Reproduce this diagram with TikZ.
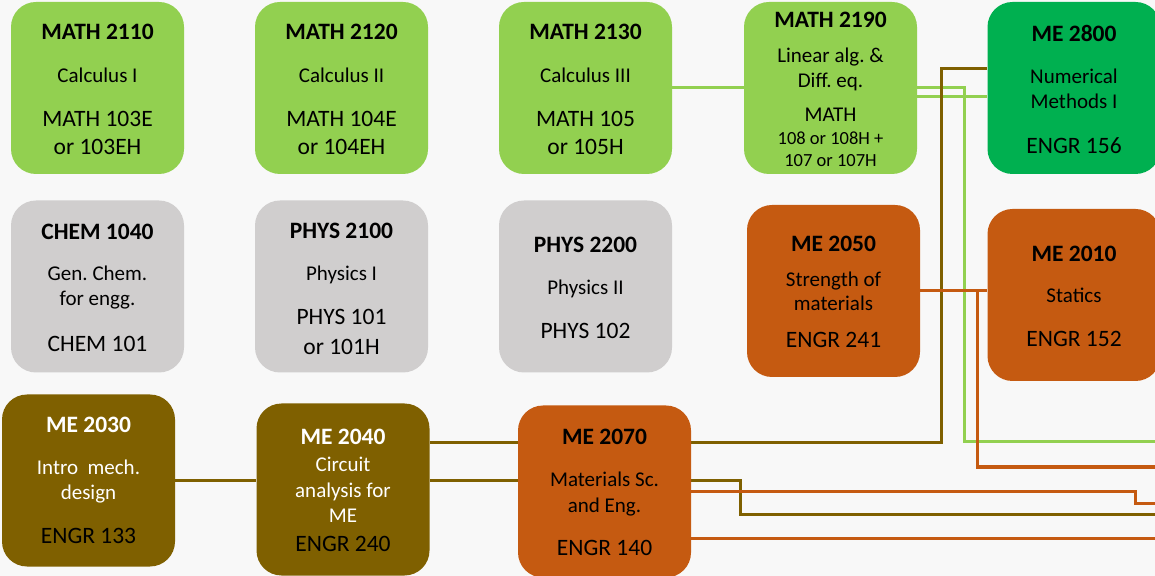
\documentclass[tikz,border=0pt]{standalone}
\usepackage{fontspec}
\setmainfont{Carlito}
\usepackage{tikz}
\usetikzlibrary{calc}
\definecolor{paper}{HTML}{F8F8F8}
\definecolor{lgreen}{HTML}{92D050}
\definecolor{dgreen}{HTML}{00B050}
\definecolor{lgray}{HTML}{D0CECE}
\definecolor{rust}{HTML}{C55A11}
\definecolor{olive}{HTML}{7F6000}
\pgfdeclarelayer{sheet}
\pgfdeclarelayer{wires}
\pgfsetlayers{sheet,wires,main}
\frenchspacing
\tikzset{
  course/.style={rounded corners=12.5pt,minimum width=86.5pt,minimum height=86pt,inner sep=0pt},
  ttl/.style={anchor=base,inner sep=0pt,font=\bfseries\fontsize{11.75}{14}\selectfont},
  dsc/.style={anchor=base,inner sep=0pt,font=\fontsize{10.5}{12.5}\selectfont},
  cde/.style={anchor=base,inner sep=0pt,font=\fontsize{11.75}{14.5}\selectfont},
  sml/.style={anchor=base,inner sep=0pt,font=\fontsize{9.25}{11.5}\selectfont},
  wire/.style={line width=1.5pt}
}

\begin{document}
\begin{tikzpicture}[x=0.5pt,y=-0.5pt]
\useasboundingbox (0,0) rectangle (1155,576);
\begin{pgfonlayer}{sheet}\fill[paper] (0,0) rectangle (1155,576);\end{pgfonlayer}
\clip (0,0) rectangle (1155,576);
% first row: maths
\node[course,fill=lgreen] (m2110) at (97.5,88) {};
\node[ttl] (m2110a) at (97.5,39.5) {MATH 2110}; \node[dsc] (m2110b) at (97.5,82.5) {Calculus I};
\node[cde] (m2110c) at (97.5,126.5) {MATH 103E}; \node[cde] (m2110d) at (97.5,154.5) {or 103EH};
\node[course,fill=lgreen] (m2120) at (341.5,88) {};
\node[ttl] (m2120a) at (341.5,39.5) {MATH 2120}; \node[dsc] (m2120b) at (341.5,82.5) {Calculus II};
\node[cde] (m2120c) at (341.5,126.5) {MATH 104E}; \node[cde] (m2120d) at (341.5,154.5) {or 104EH};
\node[course,fill=lgreen] (m2130) at (585.5,88) {};
\node[ttl] (m2130a) at (585.5,39.5) {MATH 2130}; \node[dsc] (m2130b) at (585.5,82.5) {Calculus III};
\node[cde] (m2130c) at (585.5,126.5) {MATH 105}; \node[cde] (m2130d) at (585.5,154.5) {or 105H};
\node[course,fill=lgreen] (m2190) at (830.5,88) {};
\node[ttl] (m2190a) at (830.5,27.5) {MATH 2190}; \node[dsc] (m2190b) at (830.5,62.5) {Linear alg. \&};
\node[dsc] (m2190c) at (830.5,87.5) {Diff. eq.}; \node[dsc] (m2190d) at (830.5,121.5) {MATH};
\node[sml] (m2190e) at (830.5,144.5) {108 or 108H +}; \node[sml] (m2190f) at (830.5,167) {107 or 107H};
\node[course,fill=dgreen] (m2800) at (1074,88) {};
\node[ttl] (m2800a) at (1074,41.5) {ME 2800}; \node[dsc] (m2800b) at (1074,83.5) {Numerical};
\node[dsc] (m2800c) at (1074,108.5) {Methods I}; \node[cde] (m2800d) at (1074,153.5) {ENGR 156};
% second row: sciences and mechanics
\node[course,fill=lgray] (c1040) at (97.5,286.5) {};
\node[ttl] (c1040a) at (97.5,239.5) {CHEM 1040}; \node[dsc] (c1040b) at (97.5,280.5) {Gen. Chem.};
\node[dsc] (c1040c) at (97.5,305.5) {for engg.}; \node[cde] (c1040d) at (97.5,351.5) {CHEM 101};
\node[course,fill=lgray] (p2100) at (341.5,286.5) {};
\node[ttl] (p2100a) at (341.5,238.5) {PHYS 2100}; \node[dsc] (p2100b) at (341.5,280.5) {Physics I};
\node[cde] (p2100c) at (341.5,324.5) {PHYS 101}; \node[cde] (p2100d) at (341.5,354.5) {or 101H};
\node[course,fill=lgray] (p2200) at (585.5,286.5) {};
\node[ttl] (p2200a) at (585.5,252.5) {PHYS 2200}; \node[dsc] (p2200b) at (585.5,294.5) {Physics II};
\node[cde] (p2200c) at (585.5,338.5) {PHYS 102};
\node[course,fill=rust] (m2050) at (833.5,291) {};
\node[ttl] (m2050a) at (833.5,251.5) {ME 2050}; \node[dsc] (m2050b) at (833.5,286.5) {Strength of};
\node[dsc] (m2050c) at (833.5,310.5) {materials}; \node[cde] (m2050d) at (833.5,347.5) {ENGR 241};
\node[course,fill=rust] (m2010) at (1074,295) {};
\node[ttl] (m2010a) at (1074,261.5) {ME 2010}; \node[dsc] (m2010b) at (1074,302.5) {Statics};
\node[cde] (m2010c) at (1074,346.5) {ENGR 152};
% third row
\node[course,fill=olive] (m2030) at (88.5,480.5) {};
\node[ttl,white] (m2030a) at (88.5,432.5) {ME 2030}; \node[dsc,white] (m2030b) at (88.5,474.5) {Intro~ mech.};
\node[dsc,white] (m2030c) at (88.5,499.5) {design}; \node[cde] (m2030d) at (88.5,543.5) {ENGR 133};
\node[course,fill=olive] (m2040) at (343,489.5) {};
\node[ttl,white] (m2040a) at (343,444.5) {ME 2040}; \node[dsc,white] (m2040b) at (343,471.5) {Circuit};
\node[dsc,white] (m2040c) at (343,497.5) {analysis for}; \node[dsc,white] (m2040d) at (343,522.5) {ME};
\node[cde] (m2040e) at (343,551.5) {ENGR 240};
\node[course,fill=rust] (m2070) at (604.5,491.5) {};
\node[ttl] (m2070a) at (604.5,444.5) {ME 2070}; \node[dsc] (m2070b) at (604.5,486.5) {Materials Sc.};
\node[dsc] (m2070c) at (604.5,512.5) {and Eng.}; \node[cde] (m2070d) at (604.5,555.5) {ENGR 140};
% turn points and loose ends at the right edge
\coordinate (gT) at (964,442); \coordinate (gE) at (1155,442);
\coordinate (bT) at (941,69); \coordinate (bU) at (740,514); \coordinate (bE) at (1155,514);
\coordinate (oT) at (977,467); \coordinate (oE) at (1155,467);
\coordinate (oU) at (1135,503); \coordinate (oF) at (1155,503); \coordinate (oG) at (1155,538.5);
\begin{pgfonlayer}{wires}
\draw[wire,lgreen] (m2130.east) -- (m2190.west);
\draw[wire,lgreen] (m2190.east) -| (gT) -- (gE);
\draw[wire,lgreen] ($(m2190.east)+(0,9)$) -- ($(m2800.west)+(0,9)$);
\draw[wire,olive] (m2030.east) -- (m2030.east -| m2040.west);
\draw[wire,olive] ($(m2040.east)+(0,-46.5)$) -| (bT) -- (bT -| m2800.west);
\draw[wire,olive] ($(m2040.east)+(0,-9.5)$) -| (bU) -- (bE);
\draw[wire,rust] (m2050.east) -- (m2050.east -| m2010.west);
\draw[wire,rust] (m2050.east) -| (oT) -- (oE);
\draw[wire,rust] (m2070.east) -| (oU) -- (oF);
\draw[wire,rust] (oG -| m2070.east) -- (oG);
\end{pgfonlayer}
\end{tikzpicture}
\end{document}
